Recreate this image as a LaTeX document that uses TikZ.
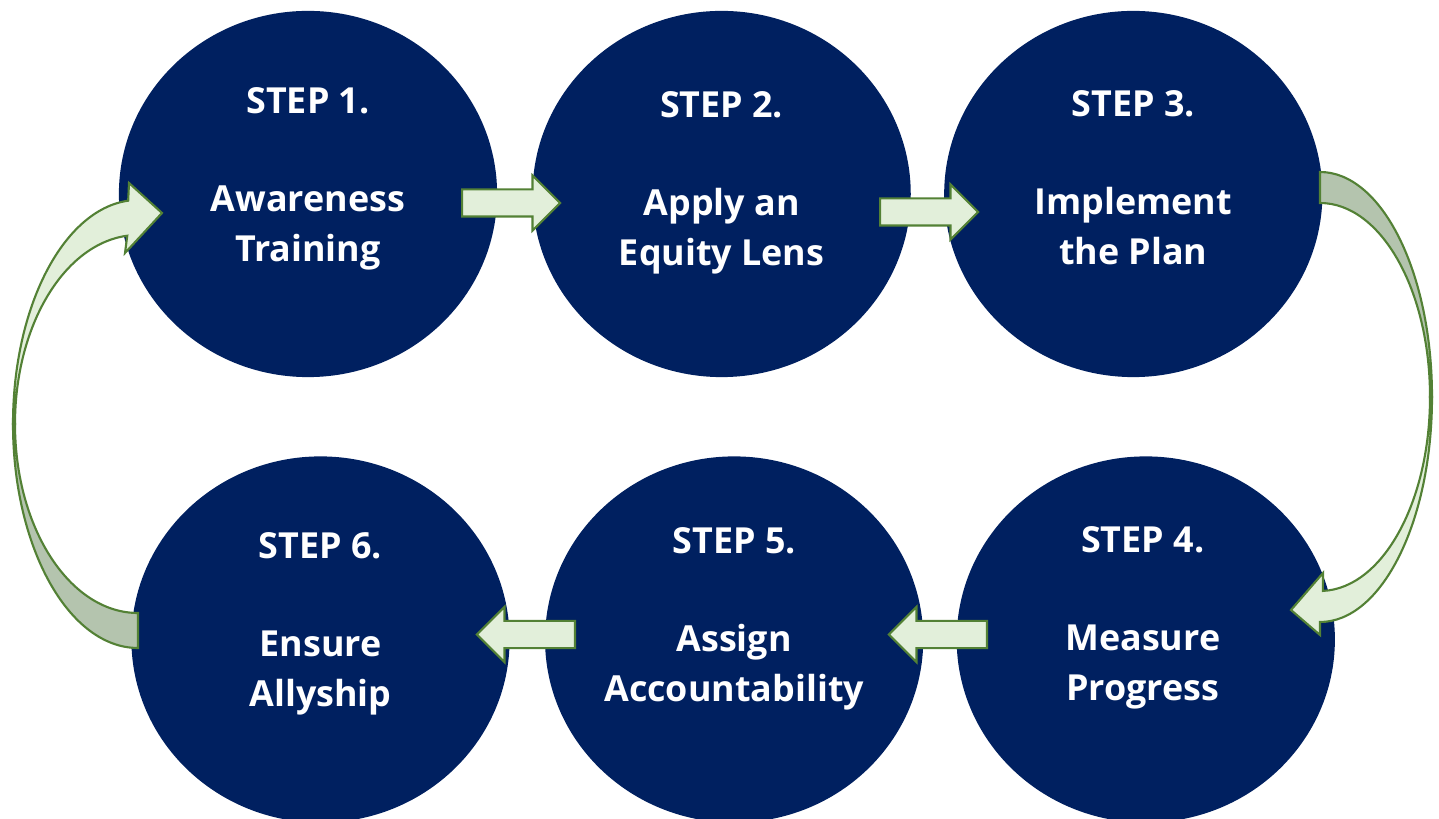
\documentclass[tikz,border=0pt]{standalone}
\usepackage{xcolor}
\usepackage{fontspec}
\setmainfont{Open Sans}
\usepackage{tikz}
\usetikzlibrary{positioning, shapes.geometric, shapes.arrows, calc}

\definecolor{stepblue}{HTML}{002060}
\definecolor{arrowfill}{HTML}{E2EFDA}
\definecolor{arrowback}{HTML}{B4C4AE}
\definecolor{arrowline}{HTML}{538135}

\begin{document}
\begin{tikzpicture}[x=0.01cm, y=-0.01cm, every node/.style={align=center},
        stepcircle/.style={ellipse, fill=stepblue, inner sep=0pt, minimum width=3.78cm, minimum height=3.66cm},
        steptext/.style={text=white, inner sep=0pt, anchor=north, font=\bfseries\fontsize{10.2}{14.2}\selectfont},
        flowarrow/.style={single arrow, draw=arrowline, fill=arrowfill, line width=0.6pt,
            inner xsep=0pt, inner ysep=0.125cm, single arrow head extend=0.14cm, single arrow tip angle=90,
            minimum width=0.53cm, minimum height=0.98cm, anchor=tail},
        bendfront/.style={draw=arrowline, fill=arrowfill, line width=0.6pt},
        bendback/.style={draw=arrowline, fill=arrowback, line width=0.6pt}]
    \useasboundingbox[fill=white] (0,0) rectangle (1439,819);

    % top row
    \node (c1) [stepcircle] at (308,194) {};
    \node (c2) [stepcircle, right=0.34cm of c1] {};
    \node (c3) [stepcircle, right=0.32cm of c2] {};

    % bottom row
    \node (c6) [stepcircle] at (320.5,639.5) {};
    \node (c5) [stepcircle, right=0.34cm of c6] {};
    \node (c4) [stepcircle, right=0.32cm of c5] {};

    % straight arrows
    \node (a12) [flowarrow] at (461,203) {};
    \node (a23) [flowarrow] at (879,212) {};
    \node (a45) [flowarrow, shape border rotate=180] at (988,634.5) {};
    \node (a56) [flowarrow, shape border rotate=180] at (576,634.5) {};

    % bent arrow from step 3 down to step 4
    \coordinate (rc) at (1320,397);
    \path[bendback] ($(rc)+(-90:112 and 225)$) arc[start angle=-90, end angle=0, x radius=112, y radius=225]
        -- ($(rc)+(0:110 and 194)$) arc[start angle=0, end angle=-90, x radius=110, y radius=194] -- cycle;
    \path[bendfront] ($(rc)+(0:112 and 225)$) arc[start angle=0, end angle=90, x radius=112, y radius=225]
        -- (1320,635) -- (1291,610) -- (1323,573)
        -- ($(rc)+(88.5:110 and 194)$) arc[start angle=88.5, end angle=0, x radius=110, y radius=194] -- cycle;

    % bent arrow from step 6 back up to step 1
    \coordinate (lc) at (138,424);
    \path[bendback] ($(lc)+(90:125 and 224)$) arc[start angle=90, end angle=180, x radius=125, y radius=224]
        -- ($(lc)+(180:123 and 189)$) arc[start angle=180, end angle=90, x radius=123, y radius=189] -- cycle;
    \path[bendfront] ($(lc)+(180:125 and 224)$) arc[start angle=180, end angle=265.5, x radius=125, y radius=224]
        -- (129,183) -- (162,213) -- (125,253)
        -- ($(lc)+(265:123 and 189)$) arc[start angle=265, end angle=180, x radius=123, y radius=189] -- cycle;

    % labels
    \node (t1) [steptext] at ([yshift=1.07cm]c1.center) {STEP 1.\\[13.7pt]Awareness\\Training};
    \node (t2) [steptext] at ([yshift=1.03cm]c2.center) {STEP 2.\\[13.7pt]Apply an\\Equity Lens};
    \node (t3) [steptext] at ([yshift=1.04cm]c3.center) {STEP 3.\\[13.7pt]Implement\\the Plan};
    \node (t4) [steptext] at ([yshift=1.14cm,xshift=-0.03cm]c4.center) {STEP 4.\\[13.7pt]Measure\\Progress};
    \node (t5) [steptext] at ([yshift=1.13cm]c5.center) {STEP 5.\\[13.7pt]Assign\\Accountability};
    \node (t6) [steptext] at ([yshift=1.08cm]c6.center) {STEP 6.\\[13.7pt]Ensure\\Allyship};
\end{tikzpicture}
\end{document}
